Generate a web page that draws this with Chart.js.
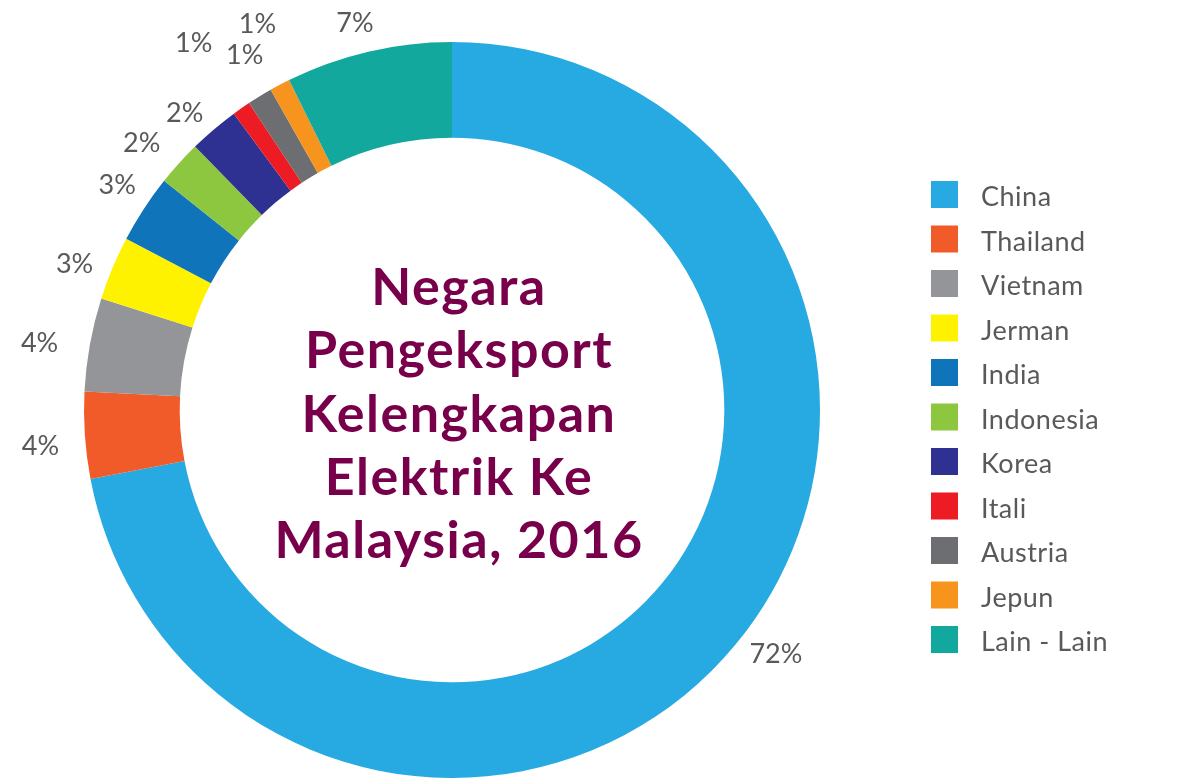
<!DOCTYPE html>
<html>
<head>
<meta charset="utf-8">
<script src="https://cdn.jsdelivr.net/npm/chart.js@4/dist/chart.umd.min.js"></script>
<style>
html,body{margin:0;padding:0;background:#ffffff;}
#wrap{position:relative;width:1198px;height:779px;overflow:hidden;}
</style>
</head>
<body>
<div id="wrap"><canvas id="c" width="1198" height="779"></canvas></div>
<script>
// ---- data ----
const categories = ['China','Thailand','Vietnam','Jerman','India','Indonesia','Korea','Itali','Austria','Jepun','Lain - Lain'];
const shares = [72.0, 3.8, 4.1, 2.8, 3.0, 2.0, 2.2, 0.8, 1.1, 0.9, 7.3];
const colours = ['#27aae1','#f15a29','#939598','#fff200','#1074bb','#8dc63f','#2e3192','#ed1c24','#6d6e71','#f7941d','#13a89e'];
const titleLines = ['Negara','Pengeksport','Kelengkapan','Elektrik Ke','Malaysia, 2016'];

const LABEL_FONT = 'Lato';
const TEXT_GREY = '#58595b';

// percentage labels around the ring (radial distance + small angular nudge per label)
const pctLabels = {
  id: 'pctLabels',
  afterDatasetsDraw(chart, args, opts) {
    const meta = chart.getDatasetMeta(0);
    const ctx = chart.ctx;
    ctx.save();
    ctx.font = '400 27px ' + LABEL_FONT;
    ctx.fillStyle = TEXT_GREY;
    ctx.textAlign = 'center';
    ctx.textBaseline = 'alphabetic';
    meta.data.forEach((arc, i) => {
      const p = arc.getProps(['startAngle','endAngle','x','y'], true);
      const a = (p.startAngle + p.endAngle) / 2 + opts.nudge[i] * Math.PI / 180;
      const r = opts.radii[i];
      const v = chart.data.datasets[0].data[i];
      ctx.fillText(Math.round(v) + '%', p.x + Math.cos(a) * r, p.y + Math.sin(a) * r + 9.7);
    });
    ctx.restore();
  }
};

// title in the hole
const centreTitle = {
  id: 'centreTitle',
  afterDraw(chart, args, opts) {
    const arc = chart.getDatasetMeta(0).data[0];
    const ctx = chart.ctx;
    ctx.save();
    ctx.font = '700 52px ' + LABEL_FONT;
    ctx.letterSpacing = '1.5px';
    ctx.fillStyle = '#78004a';
    ctx.textAlign = 'center';
    ctx.textBaseline = 'alphabetic';
    opts.lines.forEach((t, i) => {
      ctx.fillText(t, arc.x + 7, arc.y - 105 + i * 63.25);
    });
    ctx.restore();
  }
};

// legend on the right
const sideLegend = {
  id: 'sideLegend',
  afterDraw(chart) {
    const ctx = chart.ctx;
    const labels = chart.data.labels;
    const bg = chart.data.datasets[0].backgroundColor;
    ctx.save();
    ctx.font = '400 27px ' + LABEL_FONT;
    ctx.letterSpacing = '0.5px';
    ctx.textAlign = 'left';
    ctx.textBaseline = 'alphabetic';
    labels.forEach((lab, i) => {
      const top = 181 + i * 44.5;
      ctx.fillStyle = bg[i];
      ctx.fillRect(931, top, 27, 27);
      ctx.fillStyle = TEXT_GREY;
      ctx.fillText(lab, 981, top + 25);
    });
    ctx.restore();
  }
};

new Chart(document.getElementById('c'), {
  type: 'doughnut',
  data: {
    labels: categories,
    datasets: [{
      data: shares,
      backgroundColor: colours,
      borderWidth: 0,
      radius: 368,
      cutout: '74%'
    }]
  },
  options: {
    responsive: false,
    devicePixelRatio: 1,
    animation: false,
    layout: { padding: { left: 0, right: 294, top: 41, bottom: 0 } },
    plugins: {
      legend: { display: false },
      tooltip: { enabled: false },
      pctLabels: {
        radii: [405, 413, 418, 405, 404, 410, 400, 449, 412, 433, 400],
        nudge: [-2.7, -0.9, -0.9, -1.4, 0.9, -1.3, -1.6, -0.2, 1.3, 1.2, -0.9]
      },
      centreTitle: { lines: titleLines }
    }
  },
  plugins: [pctLabels, centreTitle, sideLegend]
});
</script>
</body>
</html>
